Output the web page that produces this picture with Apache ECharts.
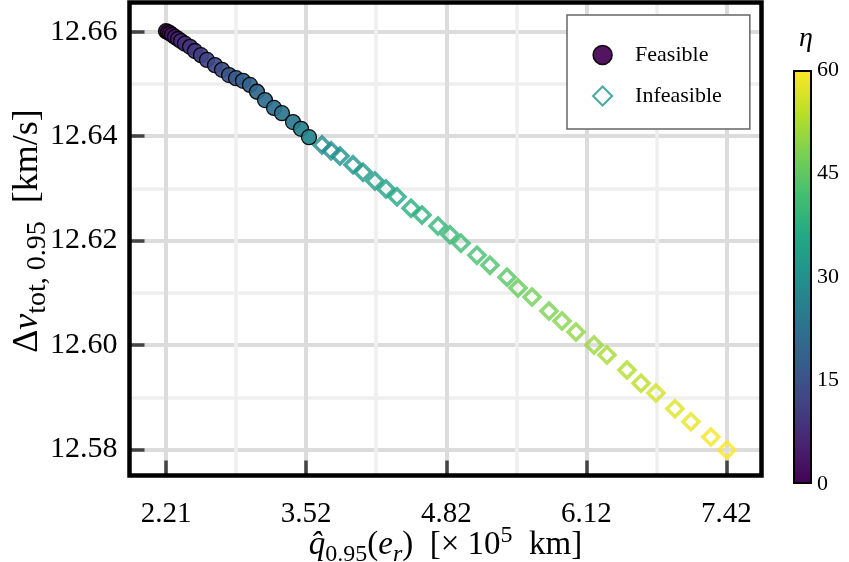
<!DOCTYPE html>
<html><head><meta charset="utf-8">
<script src="https://cdn.jsdelivr.net/npm/echarts@6/dist/echarts.min.js"></script>
<style>html,body{margin:0;padding:0;background:#fff}#c{width:849px;height:562px}</style>
</head><body><div id="c"></div>
<script>
const feasibleX = [2.210, 2.229, 2.247, 2.266, 2.294, 2.322, 2.350, 2.387, 2.434, 2.480, 2.536, 2.592, 2.666, 2.732, 2.797, 2.862, 2.927, 2.992, 3.057, 3.132, 3.216, 3.290, 3.393, 3.467, 3.542];
const feasibleY = [12.6601, 12.6599, 12.6597, 12.6594, 12.6590, 12.6586, 12.6582, 12.6577, 12.6571, 12.6563, 12.6555, 12.6546, 12.6536, 12.6527, 12.6517, 12.6511, 12.6506, 12.6498, 12.6485, 12.6469, 12.6454, 12.6444, 12.6427, 12.6414, 12.6398];
const feasibleEta = [0, 1, 2, 3, 4, 6, 7, 8, 9, 10, 11, 12, 13, 14, 16, 17, 18, 19, 20, 21, 22, 23, 24, 26, 27];

const infeasibleX = [3.663, 3.747, 3.830, 3.952, 4.045, 4.156, 4.259, 4.361, 4.492, 4.594, 4.743, 4.855, 4.957, 5.106, 5.227, 5.386, 5.488, 5.619, 5.777, 5.898, 6.028, 6.196, 6.317, 6.503, 6.634, 6.773, 6.950, 7.099, 7.285, 7.434];
const infeasibleY = [12.6383, 12.6372, 12.6362, 12.6345, 12.6331, 12.6314, 12.6299, 12.6284, 12.6262, 12.6249, 12.6228, 12.6211, 12.6195, 12.6172, 12.6153, 12.6130, 12.6109, 12.6092, 12.6065, 12.6046, 12.6025, 12.6000, 12.5981, 12.5952, 12.5927, 12.5908, 12.5878, 12.5853, 12.5824, 12.5799];
const infeasibleEta = [28, 29, 30, 31, 32, 33, 34, 36, 37, 38, 39, 40, 41, 42, 43, 44, 46, 47, 48, 49, 50, 51, 52, 53, 54, 56, 57, 58, 59, 60];

const xTickValues = [2.21, 3.515, 4.82, 6.125, 7.43];
const xTickLabels = ['2.21', '3.52', '4.82', '6.12', '7.42'];
const xMinorValues = [2.8625, 4.1675, 5.4725, 6.7775];
const yTickValues = [12.58, 12.60, 12.62, 12.64, 12.66];
const yTickLabels = ['12.58', '12.60', '12.62', '12.64', '12.66'];
const yMinorValues = [12.59, 12.61, 12.63, 12.65];
const etaTicks = [0, 15, 30, 45, 60];
const seriesNames = ['Feasible', 'Infeasible'];

const viridis = ['#440154', '#482475', '#414487', '#355f8d', '#2a788e', '#21918c', '#22a884', '#44bf70', '#7ad151', '#bddf26', '#fde725'];

const FONT = 'Liberation Serif';
const X_MIN = 1.870, X_MAX = 7.756, Y_MIN = 12.57502, Y_MAX = 12.66559;
// hollow diamond ring (outer clockwise, inner counter-clockwise)
const HOLLOW_DIAMOND = 'path://M0,-10L10,0L0,10L-10,0ZM0,-5.2L-5.2,0L0,5.2L5.2,0Z';

function pick(values, labels) {
  return function (v) {
    const i = values.findIndex(t => Math.abs(t - v) < 1e-6);
    return i >= 0 ? labels[i] : '';
  };
}

function makeRich(big, small, shift) {
  return {
    n: {fontFamily: FONT, fontSize: big, lineHeight: big + 1, color: '#000'},
    i: {fontFamily: FONT, fontSize: big, lineHeight: big + 1, fontStyle: 'italic', color: '#000'},
    s: {fontFamily: FONT, fontSize: small, lineHeight: small, padding: [shift, 0, 0, 0], color: '#000'},
    si: {fontFamily: FONT, fontSize: small, lineHeight: small, fontStyle: 'italic', padding: [shift, 0, 0, 0], color: '#000'},
    p: {fontFamily: FONT, fontSize: small, lineHeight: small, padding: [0, 0, shift, 0], color: '#000'}
  };
}

const chart = echarts.init(document.getElementById('c'), null, {renderer: 'canvas'});

const option = {
  animation: false,
  backgroundColor: '#fff',
  title: {
    text: 'η', left: 794, top: 20,
    textStyle: {fontFamily: FONT, fontStyle: 'italic', fontWeight: 'normal', fontSize: 28, color: '#000'}
  },
  grid: [
    {left: 129.5, right: 87.5, top: 2.5, bottom: 86.5, outerBoundsMode: 'none', containLabel: false,
     show: true, borderColor: '#000', borderWidth: 4.5, backgroundColor: 'transparent', z: 10},
    {left: 793, top: 70, width: 19, height: 414, outerBoundsMode: 'none', containLabel: false, show: false}
  ],
  xAxis: [
    {
      gridIndex: 0, type: 'value', min: X_MIN, max: X_MAX, position: 'bottom',
      axisLine: {show: false},
      axisTick: {show: true, inside: true, length: 15, customValues: xTickValues, lineStyle: {color: '#444', width: 3.5}},
      axisLabel: {customValues: xTickValues, formatter: pick(xTickValues, xTickLabels), fontFamily: FONT, fontSize: 29, color: '#000', margin: 24},
      splitLine: {show: true, lineStyle: {color: '#dcdcdc', width: 4}},
      name: '{i|q\u0302}{s|0.95}{n|(}{i|e}{si|r}{n|)  [× 10}{p|5}{n|  km]}',
      nameLocation: 'middle', nameGap: 53, nameMoveOverlap: false,
      nameTextStyle: {rich: makeRich(33, 24, 19)}
    },
    {
      gridIndex: 0, type: 'value', min: X_MIN, max: X_MAX, position: 'top',
      axisLine: {show: false}, axisLabel: {show: false},
      axisTick: {show: false, customValues: xMinorValues},
      splitLine: {show: true, lineStyle: {color: '#efefef', width: 3.5}}
    },
    {gridIndex: 1, type: 'category', data: ['η'], show: false}
  ],
  yAxis: [
    {
      gridIndex: 0, type: 'value', min: Y_MIN, max: Y_MAX, position: 'left',
      axisLine: {show: false},
      axisTick: {show: true, inside: true, length: 15, customValues: yTickValues, lineStyle: {color: '#444', width: 3.5}},
      axisLabel: {customValues: yTickValues, formatter: pick(yTickValues, yTickLabels), fontFamily: FONT, fontSize: 30, color: '#000', margin: 12},
      splitLine: {show: true, lineStyle: {color: '#dcdcdc', width: 4}},
      name: '{n|Δ}{i|v}{s|tot, 0.95}{n|  [km/s]}',
      nameLocation: 'middle', nameGap: 83, nameRotate: 90, nameMoveOverlap: false,
      nameTextStyle: {rich: makeRich(36, 28, 20), padding: [0, 0, 0, 16]}
    },
    {
      gridIndex: 0, type: 'value', min: Y_MIN, max: Y_MAX, position: 'right',
      axisLine: {show: false}, axisLabel: {show: false},
      axisTick: {show: false, customValues: yMinorValues},
      splitLine: {show: true, lineStyle: {color: '#efefef', width: 3.5}}
    },
    {
      gridIndex: 1, type: 'value', min: etaTicks[0], max: etaTicks[etaTicks.length - 1], position: 'right',
      axisLine: {show: false}, axisTick: {show: false}, splitLine: {show: false},
      axisLabel: {customValues: etaTicks, fontFamily: FONT, fontSize: 22, color: '#000', margin: 5}
    }
  ],
  visualMap: {
    type: 'continuous', show: false, min: etaTicks[0], max: etaTicks[etaTicks.length - 1],
    dimension: 2, seriesIndex: [0, 1], inRange: {color: viridis}
  },
  legend: {
    orient: 'vertical', left: 567, top: 15,
    padding: [28, 28, 21, 25], itemGap: 17, itemWidth: 19, itemHeight: 19,
    backgroundColor: '#fff', borderColor: '#666', borderWidth: 1.5, borderRadius: 0, z: 20,
    textStyle: {fontFamily: FONT, fontSize: 22, lineHeight: 24, color: '#000', padding: [0, 0, 0, 18]},
    data: [
      {name: seriesNames[0], icon: 'circle', itemStyle: {color: '#440154', borderColor: '#000', borderWidth: 1.5}},
      {name: seriesNames[1], icon: 'diamond', itemStyle: {color: '#fff', borderColor: '#22978b', borderWidth: 2.2}}
    ]
  },
  series: [
    {
      name: seriesNames[1], type: 'scatter', xAxisIndex: 0, yAxisIndex: 0, z: 2,
      symbol: HOLLOW_DIAMOND, symbolSize: 21,
      itemStyle: {borderWidth: 0},
      data: infeasibleX.map((x, k) => [x, infeasibleY[k], infeasibleEta[k]])
    },
    {
      name: seriesNames[0], type: 'scatter', xAxisIndex: 0, yAxisIndex: 0, z: 3,
      symbol: 'circle', symbolSize: 15,
      itemStyle: {borderColor: '#000', borderWidth: 1.3, opacity: 0.92},
      data: feasibleX.map((x, k) => [x, feasibleY[k], feasibleEta[k]])
    },
    {
      name: 'colorbar', type: 'bar', xAxisIndex: 2, yAxisIndex: 2, silent: true,
      barWidth: '100%',
      itemStyle: {
        borderColor: '#000', borderWidth: 2,
        color: new echarts.graphic.LinearGradient(0, 1, 0, 0,
          viridis.map((c, k) => ({offset: k / (viridis.length - 1), color: c})))
      },
      data: [etaTicks[etaTicks.length - 1]]
    }
  ]
};
chart.setOption(option);
</script>
</body></html>
